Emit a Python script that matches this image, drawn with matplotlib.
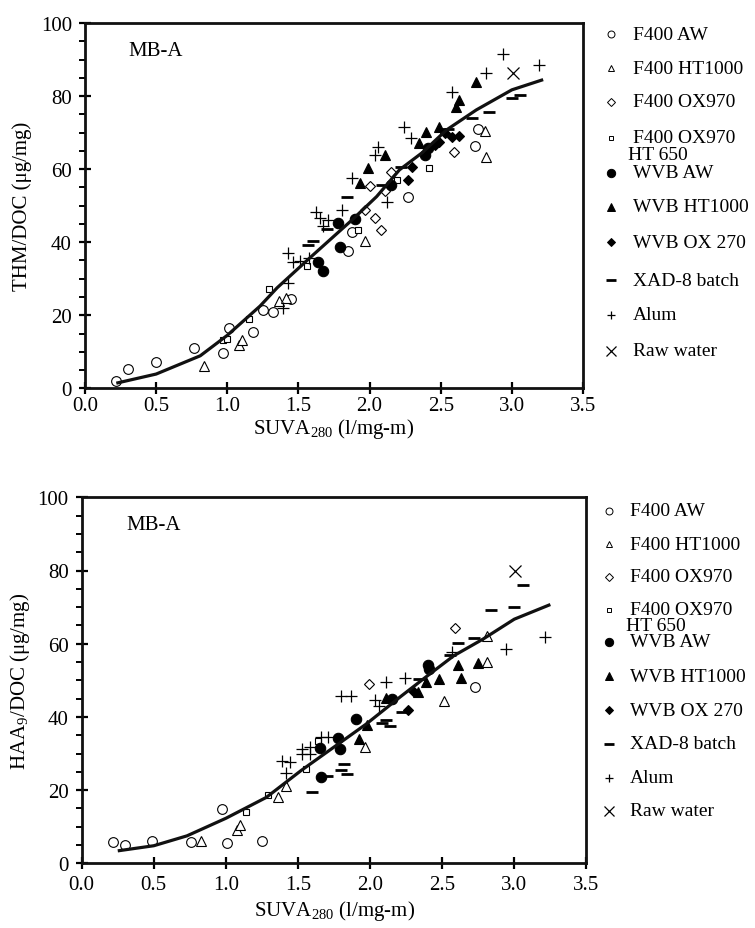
import matplotlib
matplotlib.use('Agg')
import matplotlib.pyplot as plt
from matplotlib.lines import Line2D
from matplotlib.ticker import MultipleLocator

plt.rcParams['font.family'] = ['Liberation Serif', 'DejaVu Serif']
plt.rcParams['mathtext.fontset'] = 'custom'
plt.rcParams['mathtext.rm'] = 'Liberation Serif'
plt.rcParams['mathtext.it'] = 'Liberation Serif:italic'

# ---- top panel: THM/DOC ----
thm_f400_aw_x = [0.22, 0.30, 0.50, 0.765, 0.97, 1.01, 1.18, 1.25, 1.32, 1.45, 1.85, 1.88, 2.27, 2.74, 2.76]
thm_f400_aw_y = [2.0, 5.2, 7.1, 11.1, 9.8, 16.6, 15.5, 21.4, 20.9, 24.5, 37.7, 42.7, 52.5, 66.2, 71.0]
thm_f400_ht_x = [0.835, 1.08, 1.10, 1.36, 1.41, 1.97, 2.81, 2.82]
thm_f400_ht_y = [6.2, 11.9, 13.3, 23.9, 24.8, 40.3, 70.5, 63.3]
thm_f400_ox_x = [2.0, 2.15, 2.11, 1.965, 2.04, 2.08, 2.59]
thm_f400_ox_y = [55.3, 59.1, 54.1, 48.7, 46.6, 43.4, 64.8]
thm_f400_oxht_x = [0.97, 1.0, 1.15, 1.29, 1.56, 1.92, 2.19, 2.42]
thm_f400_oxht_y = [13.3, 13.4, 19.1, 27.3, 33.6, 43.2, 56.9, 60.4]
thm_wvb_aw_x = [1.64, 1.67, 1.78, 1.79, 1.90, 2.15, 2.39, 2.41]
thm_wvb_aw_y = [34.5, 32.1, 45.3, 38.7, 46.4, 55.7, 63.8, 65.7]
thm_wvb_ht_x = [1.93, 1.99, 2.11, 2.35, 2.40, 2.49, 2.61, 2.63, 2.75]
thm_wvb_ht_y = [56.2, 60.3, 63.9, 67.1, 70.1, 71.6, 77.1, 78.9, 83.9]
thm_wvb_ox_x = [2.27, 2.30, 2.46, 2.49, 2.53, 2.58, 2.63]
thm_wvb_ox_y = [57.0, 60.5, 66.6, 67.5, 69.8, 68.9, 69.1]
thm_xad_x = [1.57, 1.60, 1.70, 1.84, 2.09, 2.22, 2.55, 2.72, 2.84, 3.0, 3.06]
thm_xad_y = [39.2, 40.2, 43.6, 52.5, 55.7, 60.5, 71.0, 73.9, 75.6, 79.4, 80.3]
thm_alum_x = [1.43, 1.39, 1.43, 1.46, 1.51, 1.575, 1.626, 1.65, 1.71, 1.67, 1.805, 1.876,
              2.035, 2.06, 2.12, 2.24, 2.29, 2.58, 2.82, 2.94, 3.19]
thm_alum_y = [28.9, 22.1, 37.0, 34.5, 34.9, 35.6, 48.2, 46.6, 46.0, 44.5, 48.9, 57.5,
              63.9, 66.0, 50.9, 71.4, 68.6, 81.2, 86.3, 91.6, 88.4]
thm_raw_x = [3.01]
thm_raw_y = [86.4]
thm_fit_x = [0.22, 0.5, 0.81, 1.0, 1.23, 1.35, 1.58, 1.88, 2.05, 2.21, 2.37, 2.54, 2.75, 3.0, 3.22]
thm_fit_y = [1.4, 3.9, 8.9, 14.5, 22.5, 27.5, 35.7, 46.2, 52.5, 59.8, 64.5, 70.7, 76.2, 81.7, 84.5]

# ---- bottom panel: HAA9/DOC ----
haa_f400_aw_x = [0.22, 0.30, 0.49, 0.76, 0.97, 1.005, 1.25, 2.73]
haa_f400_aw_y = [5.7, 5.0, 6.1, 5.9, 14.8, 5.5, 6.2, 48.3]
haa_f400_ht_x = [0.83, 1.075, 1.10, 1.36, 1.42, 1.965, 2.51, 2.81, 2.81]
haa_f400_ht_y = [6.2, 9.2, 10.5, 18.0, 21.2, 31.7, 44.3, 55.1, 62.0]
haa_f400_ox_x = [1.99, 2.59]
haa_f400_ox_y = [49.0, 64.3]
haa_f400_oxht_x = [1.14, 1.29, 1.555, 1.64]
haa_f400_oxht_y = [14.1, 18.7, 25.8, 33.5]
haa_wvb_aw_x = [1.65, 1.66, 1.78, 1.79, 1.90, 2.15, 2.40, 2.41]
haa_wvb_aw_y = [31.4, 23.7, 34.2, 31.2, 39.3, 44.9, 54.2, 53.1]
haa_wvb_ht_x = [1.925, 1.98, 2.11, 2.335, 2.39, 2.48, 2.61, 2.63, 2.75]
haa_wvb_ht_y = [34.0, 37.8, 45.3, 46.7, 49.4, 50.4, 54.2, 50.5, 54.7]
haa_wvb_ox_x = [2.265, 2.30]
haa_wvb_ox_y = [42.0, 47.2]
haa_xad_x = [1.595, 1.70, 1.80, 1.82, 1.84, 2.08, 2.11, 2.14, 2.22, 2.34, 2.555, 2.61, 2.72, 2.84, 3.0, 3.06]
haa_xad_y = [19.6, 23.9, 25.5, 27.1, 24.4, 38.3, 39.2, 37.6, 41.4, 50.4, 56.9, 60.3, 61.6, 69.3, 70.1, 76.1]
haa_alum_x = [1.39, 1.445, 1.42, 1.525, 1.525, 1.58, 1.58, 1.66, 1.71, 1.80, 1.87, 2.035, 2.06,
              2.11, 2.24, 2.57, 2.94, 3.21]
haa_alum_y = [28.0, 27.8, 24.7, 31.2, 29.9, 31.7, 29.9, 34.4, 34.6, 45.6, 45.6, 44.6, 43.1,
              49.5, 50.5, 57.6, 58.5, 61.9]
haa_raw_x = [3.005]
haa_raw_y = [79.9]
haa_fit_x = [0.25, 0.5, 0.73, 1.0, 1.28, 1.52, 1.975, 2.21, 2.39, 2.58, 2.785, 3.0, 3.25]
haa_fit_y = [3.4, 4.8, 7.5, 12.3, 18.0, 25.3, 38.1, 45.5, 51.0, 56.7, 61.3, 66.7, 70.7]

legend_labels = ['F400 AW', 'F400 HT1000', 'F400 OX970', 'F400 OX970', 'WVB AW',
                 'WVB HT1000', 'WVB OX 270', 'XAD-8 batch', 'Alum', 'Raw water']

# marker style per series (same order as legend)
styles = [
    dict(marker='o', mfc='white', mec='black', ms=7, mew=0.8),
    dict(marker='^', mfc='white', mec='black', ms=7, mew=0.8),
    dict(marker='D', mfc='white', mec='black', ms=5, mew=0.8),
    dict(marker='s', mfc='white', mec='black', ms=4.5, mew=0.8),
    dict(marker='o', mfc='black', mec='black', ms=7.5, mew=0.8),
    dict(marker='^', mfc='black', mec='black', ms=7.5, mew=0.8),
    dict(marker='D', mfc='black', mec='black', ms=5.5, mew=0.8),
    dict(marker='_', mfc='black', mec='black', ms=9, mew=2.0),
    dict(marker='+', mfc='black', mec='black', ms=8, mew=0.9),
    dict(marker='x', mfc='black', mec='black', ms=9, mew=0.9),
]
legend_ms = [5, 5, 4, 3.5, 6, 6, 4.5, 7, 6, 6.5]

W, H = 755, 929
FS = 15


def draw_panel(ax, series, fit_x, fit_y, ylabel, ylabel_x, tick_pad, xlabel_pad):
    for (xs, ys), st in zip(series, styles):
        ax.plot(xs, ys, linestyle='none', zorder=3, **st)
    ax.plot(fit_x, fit_y, color='#111111', lw=2.3, zorder=4, solid_capstyle='butt')
    ax.set_xlim(0, 3.5)
    ax.set_ylim(0, 100)
    ax.xaxis.set_major_locator(MultipleLocator(0.5))
    ax.yaxis.set_major_locator(MultipleLocator(20))
    ax.yaxis.set_minor_locator(MultipleLocator(5))
    ax.xaxis.set_major_formatter(matplotlib.ticker.FormatStrFormatter('%.1f'))
    ax.tick_params(axis='both', which='major', direction='inout', length=9, width=1.6,
                   labelsize=FS)
    ax.tick_params(axis='x', which='major', pad=tick_pad)
    ax.tick_params(axis='y', which='major', pad=5)
    ax.tick_params(axis='y', which='minor', direction='out', length=4, width=1.4)
    for s in ax.spines.values():
        s.set_linewidth(2.0)
        s.set_color('#111111')
    ax.set_xlabel(r'SUVA$\mathrm{_{280}}$ (l/mg-m)', fontsize=FS, labelpad=xlabel_pad)
    ax.set_ylabel(ylabel, fontsize=FS)
    ax.yaxis.set_label_coords(ylabel_x, 0.5)
    ax.text(0.088, 0.925, 'MB-A', transform=ax.transAxes, fontsize=FS, va='center')


def draw_legend(fig, rows_y, ht650_y, marker_x, text_x, ht_x):
    for lab, st, ms, py in zip(legend_labels, styles, legend_ms, rows_y):
        kw = dict(st)
        kw['ms'] = ms
        if kw['marker'] in ('o', '^', 'D', 's'):
            kw['mew'] = 0.7
        fig.add_artist(Line2D([marker_x / W], [1 - py / H], transform=fig.transFigure,
                              linestyle='none', **kw))
        fig.text(text_x / W, 1 - py / H, lab, fontsize=FS - 1, va='center', ha='left')
    # second line of the "F400 OX970 / HT 650" entry, squeezed under it as in the source
    fig.text(ht_x / W, 1 - ht650_y / H, 'HT 650', fontsize=FS - 1, va='center', ha='left')


fig = plt.figure(figsize=(W / 100, H / 100), dpi=100)

ax1 = fig.add_axes([85 / W, 1 - 389.3 / H, (583 - 85) / W, (389.3 - 24) / H])
draw_panel(ax1,
           [(thm_f400_aw_x, thm_f400_aw_y), (thm_f400_ht_x, thm_f400_ht_y),
            (thm_f400_ox_x, thm_f400_ox_y), (thm_f400_oxht_x, thm_f400_oxht_y),
            (thm_wvb_aw_x, thm_wvb_aw_y), (thm_wvb_ht_x, thm_wvb_ht_y),
            (thm_wvb_ox_x, thm_wvb_ox_y), (thm_xad_x, thm_xad_y),
            (thm_alum_x, thm_alum_y), (thm_raw_x, thm_raw_y)],
           thm_fit_x, thm_fit_y, 'THM/DOC (μg/mg)', -0.106, 1, 0.5)

ax2 = fig.add_axes([81.7 / W, 1 - 864.3 / H, (586.4 - 81.7) / W, (864.3 - 498.3) / H])
draw_panel(ax2,
           [(haa_f400_aw_x, haa_f400_aw_y), (haa_f400_ht_x, haa_f400_ht_y),
            (haa_f400_ox_x, haa_f400_ox_y), (haa_f400_oxht_x, haa_f400_oxht_y),
            (haa_wvb_aw_x, haa_wvb_aw_y), (haa_wvb_ht_x, haa_wvb_ht_y),
            (haa_wvb_ox_x, haa_wvb_ox_y), (haa_xad_x, haa_xad_y),
            (haa_alum_x, haa_alum_y), (haa_raw_x, haa_raw_y)],
           haa_fit_x, haa_fit_y, r'HAA$\mathrm{_9}$/DOC (μg/mg)', -0.098, 4, 3)

draw_legend(fig, [35, 69, 103, 139, 174, 208, 243, 281, 316, 352], 155, 611, 633, 628)
draw_legend(fig, [512, 545, 578, 611, 643, 677, 711, 745, 779, 812], 627, 609, 630, 626)

fig.savefig('out.png', dpi=100)
